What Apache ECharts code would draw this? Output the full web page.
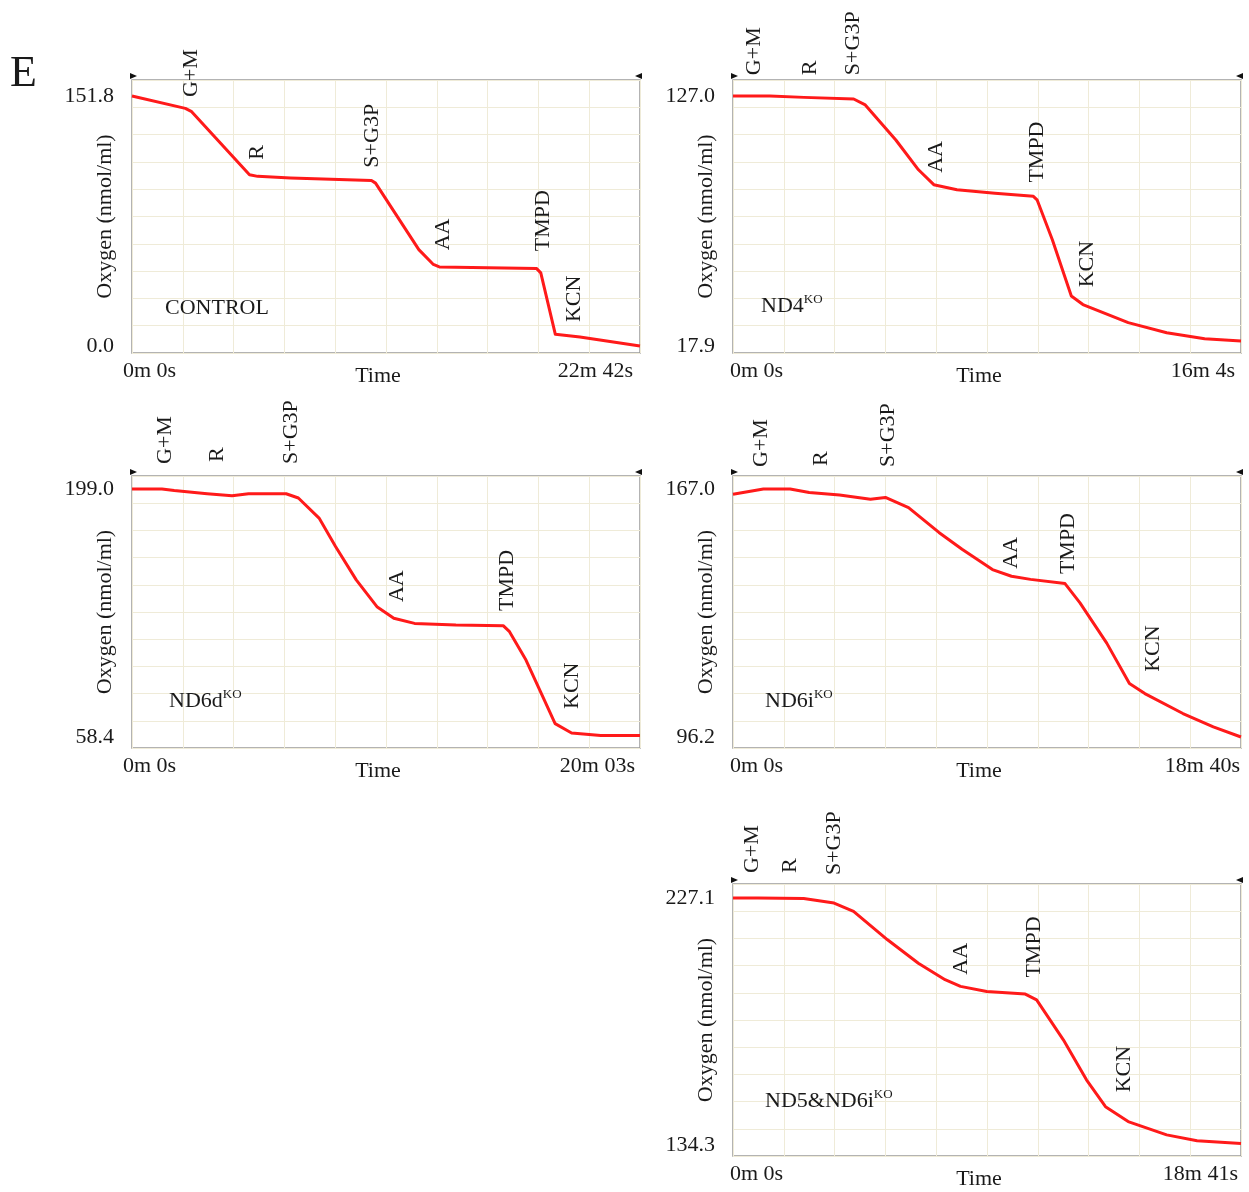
<!DOCTYPE html>
<html lang="en">
<head>
<meta charset="UTF-8">
<title>Oxygen consumption traces</title>
<script src="https://cdn.jsdelivr.net/npm/echarts@6.0.0/dist/echarts.min.js"></script>
<style>
  html, body { margin: 0; padding: 0; background: #fff; }
  #main { width: 1249px; height: 1192px; }
</style>
</head>
<body>
<div id="main"></div>
<script>
// traces: time in s, O2 in nmol/ml
var controlTime = [0, 143, 160, 315, 337, 425, 642, 653, 769, 808, 824, 1085, 1096, 1135, 1201, 1362];
var controlO2   = [151.8, 144.3, 142.3, 104.0, 103.0, 102.0, 100.5, 98.9, 58.5, 49.5, 48.0, 47.0, 44.4, 7.1, 5.4, 0.0];

var nd4Time = [0, 70, 135, 229, 251, 309, 352, 381, 425, 497, 570, 577, 606, 642, 664, 750, 823, 895, 964];
var nd4O2   = [127.0, 127.0, 126.4, 125.7, 123.1, 107.8, 94.8, 88.3, 86.1, 84.6, 83.2, 81.7, 64.3, 39.7, 36.0, 28.1, 23.7, 21.1, 20.1];

var nd6dTime = [0, 71, 100, 178, 237, 276, 365, 394, 443, 482, 531, 580, 620, 669, 767, 879, 894, 933, 973, 1002, 1041, 1110, 1203];
var nd6dO2   = [199.0, 199.0, 198.1, 196.3, 195.2, 196.3, 196.3, 193.9, 182.5, 166.4, 147.5, 132.3, 125.7, 122.8, 121.9, 121.5, 118.1, 102.0, 81.1, 66.0, 60.7, 59.3, 59.3];

var nd6iTime = [0, 67, 126, 168, 235, 303, 336, 387, 454, 505, 572, 614, 656, 732, 765, 824, 874, 908, 992, 1059, 1120];
var nd6iO2   = [165.5, 167.0, 167.0, 166.0, 165.3, 164.1, 164.6, 161.7, 154.6, 149.8, 144.0, 142.1, 141.2, 140.0, 134.5, 123.0, 111.5, 108.6, 102.9, 99.1, 96.2];

var nd56Time = [0, 55, 156, 223, 266, 341, 409, 468, 502, 560, 645, 670, 729, 780, 822, 872, 957, 1024, 1121];
var nd56O2   = [227.1, 227.1, 226.9, 225.2, 222.1, 211.4, 202.6, 196.4, 193.9, 192.0, 191.0, 188.8, 173.8, 158.8, 148.7, 143.1, 138.1, 135.9, 134.9];

// additions (label text starts at this time / O2 level)
var additions = ['G+M', 'R', 'S+G3P', 'AA', 'TMPD', 'KCN'];
var controlAddT = [158, 337, 645, 835, 1102, 1185];
var controlAddV = [151.2, 113.1, 108.3, 58.1, 57.5, 14.5];
var nd4AddT = [40, 146, 229, 386, 578, 672];
var nd4AddV = [136.1, 136.1, 136.1, 93.5, 89.2, 43.5];
var nd6dAddT = [78, 201, 378, 629, 889, 1042];
var nd6dAddV = [213.2, 214.3, 213.2, 134.9, 129.8, 74.3];
var nd6iAddT = [63, 194, 342, 613, 739, 926];
var nd6iAddV = [173.3, 173.6, 173.3, 144.2, 142.7, 114.8];
var nd56AddT = [42, 126, 224, 503, 664, 863];
var nd56AddV = [236.5, 236.5, 235.7, 198.3, 197.2, 154.1];

// axis labels
var panelNames   = ['CONTROL', 'ND4', 'ND6d', 'ND6i', 'ND5&ND6i'];
var panelSup     = ['', 'KO', 'KO', 'KO', 'KO'];
var yTopLabels   = [151.8, 127.0, 199.0, 167.0, 227.1];
var yBottomLabels = [0.0, 17.9, 58.4, 96.2, 134.3];
var xEndSeconds  = [1362, 964, 1203, 1120, 1121];
var xEndLabels   = ['22m 42s', '16m 4s', '20m 03s', '18m 40s', '18m 41s'];
var xStartLabel  = '0m 0s';

var traces = [
    [controlTime, controlO2], [nd4Time, nd4O2], [nd6dTime, nd6dO2], [nd6iTime, nd6iO2], [nd56Time, nd56O2]
];
var addPos = [
    [controlAddT, controlAddV], [nd4AddT, nd4AddV], [nd6dAddT, nd6dAddV], [nd6iAddT, nd6iAddV], [nd56AddT, nd56AddV]
];

// panel boxes (px), where the top/bottom labels sit inside them, x label insets
var layout = [
    {left: 132, top: 80,  height: 273, padTop: 16, padBottom: 7,  nameX: 165, nameY: 307, inL: 9, inR: 7},
    {left: 733, top: 80,  height: 273, padTop: 16, padBottom: 7,  nameX: 761, nameY: 305, inL: 3, inR: 6},
    {left: 132, top: 476, height: 272, padTop: 13, padBottom: 11, nameX: 169, nameY: 700, inL: 9, inR: 5},
    {left: 733, top: 476, height: 272, padTop: 13, padBottom: 11, nameX: 765, nameY: 700, inL: 3, inR: 1},
    {left: 733, top: 884, height: 272, padTop: 14, padBottom: 11, nameX: 765, nameY: 1100, inL: 3, inR: 3}
];
var plotWidth = 508;

var FONT = "'Liberation Serif', 'DejaVu Serif', serif";
var INK = '#1a1a1a';

var chart = echarts.init(document.getElementById('main'));

var grids = [], xAxes = [], yAxes = [], series = [];
layout.forEach(function (p, i) {
    var T = xEndSeconds[i];
    var hi = yTopLabels[i], lo = yBottomLabels[i];
    var unit = (hi - lo) / (p.height - p.padTop - p.padBottom);
    var yMax = hi + p.padTop * unit;
    var yMin = lo - p.padBottom * unit;
    var xGrid = [], yGrid = [];
    for (var k = 0; k <= 10; k++) {
        xGrid.push(T * k / 10);
        yGrid.push(yMin + (yMax - yMin) * k / 10);
    }

    grids.push({
        left: p.left, top: p.top, width: plotWidth, height: p.height,
        show: true, borderColor: '#9b9b9b', borderWidth: 1.5,
        outerBoundsMode: 'none'
    });

    xAxes.push({
        type: 'value', gridIndex: i, min: 0, max: T,
        axisLine: {show: false},
        axisTick: {show: false, customValues: xGrid},
        splitLine: {show: true, lineStyle: {color: '#efebd8', width: 1}},
        axisLabel: {
            customValues: [0, T], margin: 7,
            alignMinLabel: 'left', alignMaxLabel: 'right',
            padding: [0, p.inR, 0, -p.inL],
            color: INK, fontFamily: FONT, fontSize: 22,
            formatter: function (v) { return v === 0 ? xStartLabel : xEndLabels[i]; }
        },
        name: 'Time', nameLocation: 'middle', nameGap: 12, nameMoveOverlap: false,
        nameTextStyle: {color: INK, fontFamily: FONT, fontSize: 22, padding: [0, 16, 0, 0]}
    });

    yAxes.push({
        type: 'value', gridIndex: i, min: yMin, max: yMax,
        axisLine: {show: false},
        axisTick: {show: false, customValues: yGrid},
        splitLine: {show: true, lineStyle: {color: '#efebd8', width: 1}},
        axisLabel: {
            customValues: [lo, hi], margin: 18,
            color: INK, fontFamily: FONT, fontSize: 22,
            formatter: function (v) { return v.toFixed(1); }
        },
        name: 'Oxygen (nmol/ml)', nameLocation: 'middle', nameGap: 16, nameMoveOverlap: false,
        nameTextStyle: {color: INK, fontFamily: FONT, fontSize: 22}
    });

    var tr = traces[i];
    series.push({
        type: 'line', xAxisIndex: i, yAxisIndex: i,
        data: tr[0].map(function (t, k) { return [t, tr[1][k]]; }),
        showSymbol: false, silent: true, smooth: false,
        lineStyle: {color: '#ff1a1a', width: 3, join: 'round'},
        itemStyle: {color: '#ff1a1a'}
    });
});

chart.setOption({
    animation: false,
    backgroundColor: '#ffffff',
    grid: grids,
    xAxis: xAxes,
    yAxis: yAxes,
    series: series
});

// text overlays: additions, panel names, corner markers, panel letter
var graphics = [{
    type: 'text', x: 10, y: 74,
    style: {text: 'E', font: '44px ' + FONT, fill: INK, verticalAlign: 'middle'}
}];
layout.forEach(function (p, i) {
    var pos = addPos[i];
    additions.forEach(function (lbl, k) {
        var px = chart.convertToPixel({xAxisIndex: i, yAxisIndex: i}, [pos[0][k], pos[1][k]]);
        graphics.push({
            type: 'text', x: px[0], y: px[1], rotation: Math.PI / 2,
            style: {text: lbl, font: '22px ' + FONT, fill: INK, align: 'left', verticalAlign: 'middle'}
        });
    });
    graphics.push({
        type: 'text', x: p.nameX, y: p.nameY,
        style: {
            text: '{a|' + panelNames[i] + '}' + (panelSup[i] ? '{b|' + panelSup[i] + '}' : ''),
            verticalAlign: 'middle', align: 'left',
            rich: {
                a: {fontFamily: FONT, fontSize: 22, fill: INK, lineHeight: 24, verticalAlign: 'bottom'},
                b: {fontFamily: FONT, fontSize: 13, fill: INK, lineHeight: 24, verticalAlign: 'top'}
            }
        }
    });
    var L = p.left, R = p.left + plotWidth, Tp = p.top;
    graphics.push({
        type: 'polygon', shape: {points: [[L - 2, Tp - 7], [L + 5, Tp - 4], [L - 2, Tp - 1]]},
        style: {fill: '#111'}
    });
    graphics.push({
        type: 'polygon', shape: {points: [[R + 2, Tp - 7], [R - 5, Tp - 4], [R + 2, Tp - 1]]},
        style: {fill: '#111'}
    });
});
chart.setOption({graphic: graphics});
</script>
</body>
</html>
